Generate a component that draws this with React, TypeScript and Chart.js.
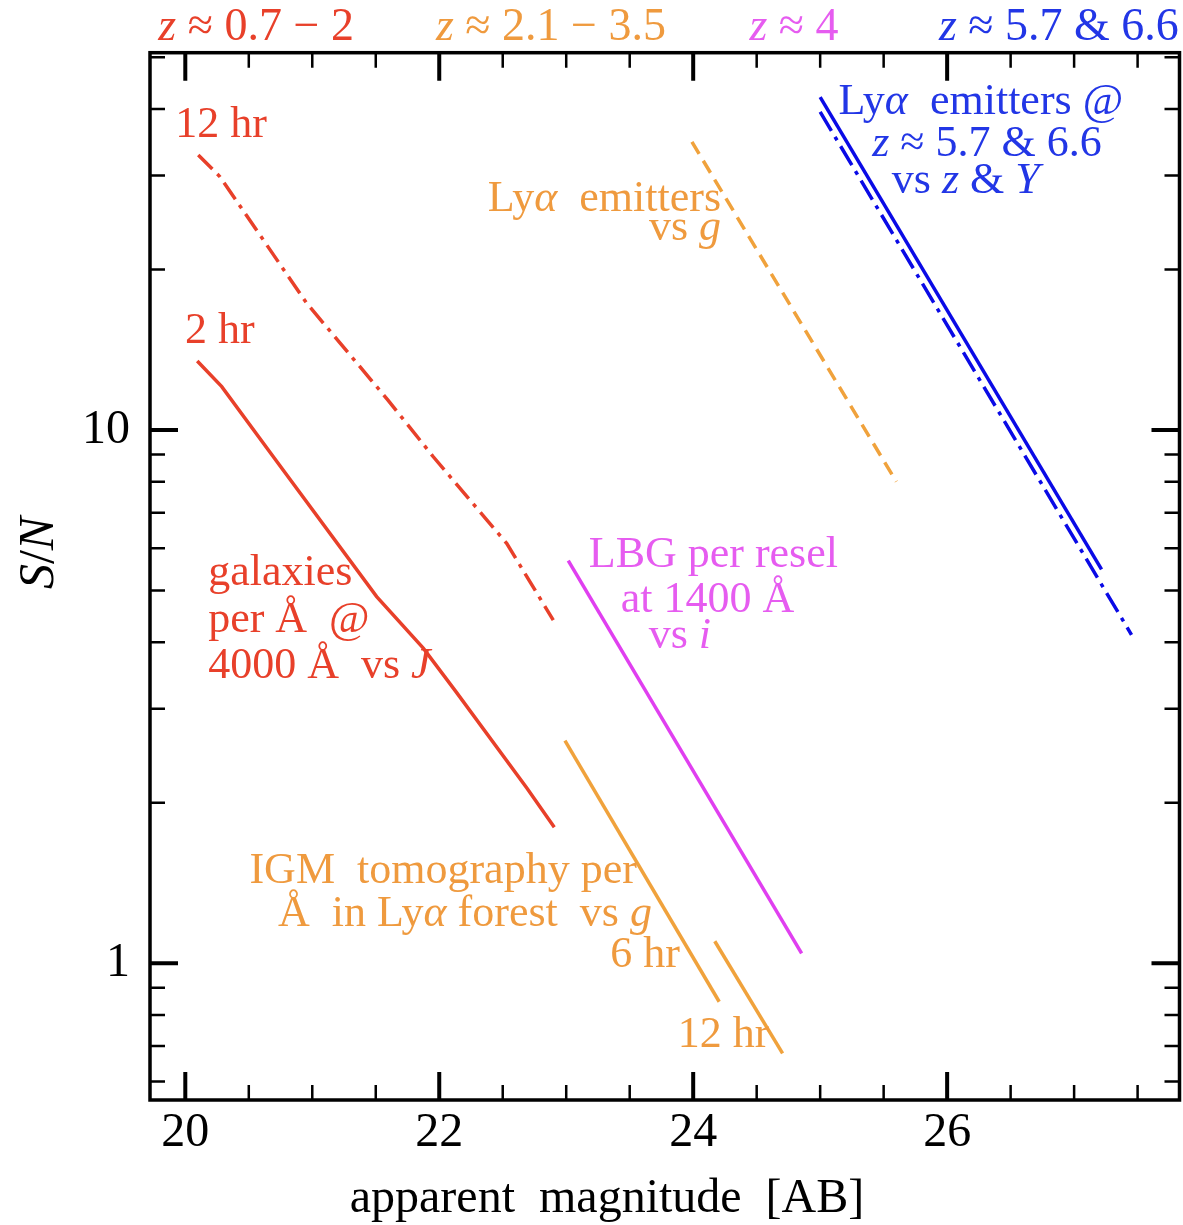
import React, { useEffect, useRef } from 'react';
import { Chart, registerables } from 'chart.js';

Chart.register(...registerables);

const FONT = "'Liberation Serif', 'Times New Roman', serif";

const RED = '#e8402a';
const ORANGE = '#f0a23c';
const ORANGE_TEXT = '#ef9a3e';
const MAGENTA = '#e03ff0';
const MAGENTA_TEXT = '#e65cf0';
const BLUE = '#0a0ae6';
const BLUE_TEXT = '#2236e6';

// galaxies per Å @ 4000 Å vs J (red)
const gal2hrMag = [20.094, 20.287, 20.683, 21.507, 21.874, 22.124, 22.691, 22.906];
const gal2hrSN = [13.47, 12.06, 8.98, 4.87, 3.9, 3.25, 2.13, 1.8];
const gal12hrMag = [20.102, 20.273, 20.956, 21.596, 21.953, 22.531, 22.898];
const gal12hrSN = [32.8, 29.85, 17.29, 11.38, 8.91, 6.13, 4.4];

// Lyα emitters vs g (orange dashed)
const laeGMag = [23.99, 25.6];
const laeGSN = [34.7, 8.0];

// IGM tomography (orange solid)
const igm6hrMag = [22.99, 24.205];
const igm6hrSN = [2.615, 0.847];
const igm12hrMag = [24.17, 24.704];
const igm12hrSN = [1.1, 0.678];

// LBG per resel (magenta)
const lbgMag = [23.016, 24.854];
const lbgSN = [5.69, 1.044];

// Lyα emitters z≈5.7 & 6.6 (blue)
const laeZMag = [25.0, 27.216];
const laeZSN = [42.1, 5.48];
const laeYMag = [25.0, 27.452];
const laeYSN = [39.5, 4.13];

// axes
const xMin = 19.722;
const xMax = 27.83;
const yMin = 0.5542;
const yMax = 51.0;
const xTickValues = [20, 20.5, 21, 21.5, 22, 22.5, 23, 23.5, 24, 24.5, 25, 25.5, 26, 26.5, 27, 27.5];
const xMajorTicks = [20, 22, 24, 26];
const yTickValues = [0.6, 0.7, 0.8, 0.9, 1, 2, 3, 4, 5, 6, 7, 8, 9, 10, 20, 30, 40, 50];
const yMajorTicks = [1, 10];

// annotation texts ('*' toggles italic)
type Note = { text: string; x: number; y: number; align: 'left' | 'right' | 'center'; color: string };
const notes: Note[] = [
  { text: '12 hr', x: 19.92, y: 35.4, align: 'left', color: RED },
  { text: '2 hr', x: 19.998, y: 14.56, align: 'left', color: RED },
  { text: 'galaxies', x: 20.18, y: 5.12, align: 'left', color: RED },
  { text: 'per Å  @', x: 20.18, y: 4.18, align: 'left', color: RED },
  { text: '4000 Å  vs *J*', x: 20.18, y: 3.43, align: 'left', color: RED },
  { text: 'Ly*α*  emitters', x: 24.219, y: 25.75, align: 'right', color: ORANGE_TEXT },
  { text: 'vs *g*', x: 24.219, y: 22.71, align: 'right', color: ORANGE_TEXT },
  { text: 'Ly*α*  emitters @', x: 26.265, y: 39.13, align: 'center', color: BLUE_TEXT },
  { text: '*z* ≈ 5.7 & 6.6', x: 26.313, y: 32.65, align: 'center', color: BLUE_TEXT },
  { text: 'vs *z* & *Y*', x: 26.147, y: 27.83, align: 'center', color: BLUE_TEXT },
  { text: 'LBG per resel', x: 24.159, y: 5.535, align: 'center', color: MAGENTA_TEXT },
  { text: 'at 1400 Å', x: 24.112, y: 4.557, align: 'center', color: MAGENTA_TEXT },
  { text: 'vs *i*', x: 23.895, y: 3.901, align: 'center', color: MAGENTA_TEXT },
  { text: 'IGM  tomography per', x: 23.556, y: 1.414, align: 'right', color: ORANGE_TEXT },
  { text: 'Å  in Ly*α* forest  vs *g*', x: 23.675, y: 1.175, align: 'right', color: ORANGE_TEXT },
  { text: '6 hr', x: 23.895, y: 0.984, align: 'right', color: ORANGE_TEXT },
  { text: '12 hr', x: 23.878, y: 0.697, align: 'left', color: ORANGE_TEXT },
];

const topLabels = ['*z* ≈ 0.7 − 2', '*z* ≈ 2.1 − 3.5', '*z* ≈ 4', '*z* ≈ 5.7 & 6.6'];
const topLabelX = [20.558, 22.88, 24.794, 26.88];
const topLabelColors = [RED, ORANGE_TEXT, MAGENTA_TEXT, BLUE_TEXT];

function drawRich(ctx: CanvasRenderingContext2D, text: string, x: number, y: number, align: string, size: number, color: string) {
  const parts = text.split('*');
  const fontFor = (it: boolean) => `${it ? 'italic ' : ''}${size}px ${FONT}`;
  const widths = parts.map((p, i) => {
    ctx.font = fontFor(i % 2 === 1);
    return ctx.measureText(p).width;
  });
  const total = widths.reduce((a, b) => a + b, 0);
  let sx = align === 'left' ? x : align === 'right' ? x - total : x - total / 2;
  ctx.textAlign = 'left';
  ctx.textBaseline = 'alphabetic';
  ctx.fillStyle = color;
  parts.forEach((p, i) => {
    ctx.font = fontFor(i % 2 === 1);
    ctx.fillText(p, sx, y);
    sx += widths[i];
  });
}

const toPoints = (xs: number[], ys: number[]) => xs.map((x, i) => ({ x, y: ys[i] }));

const framePlugin = {
  id: 'frame',
  afterDraw(chart: any) {
    const ctx: CanvasRenderingContext2D = chart.ctx;
    const { left, right, top, bottom } = chart.chartArea;
    const xs = chart.scales.x;
    const ys = chart.scales.y;
    ctx.save();
    ctx.strokeStyle = '#000';
    // ticks
    xTickValues.forEach((v) => {
      const px = xs.getPixelForValue(v);
      const major = xMajorTicks.includes(v);
      const len = major ? 28 : 15;
      ctx.lineWidth = major ? 4 : 2.5;
      ctx.beginPath();
      ctx.moveTo(px, bottom);
      ctx.lineTo(px, bottom - len);
      ctx.moveTo(px, top);
      ctx.lineTo(px, top + len);
      ctx.stroke();
    });
    yTickValues.forEach((v) => {
      const py = ys.getPixelForValue(v);
      const major = yMajorTicks.includes(v);
      const len = major ? 28 : 15;
      ctx.lineWidth = major ? 4 : 2.5;
      ctx.beginPath();
      ctx.moveTo(left, py);
      ctx.lineTo(left + len, py);
      ctx.moveTo(right, py);
      ctx.lineTo(right - len, py);
      ctx.stroke();
    });
    ctx.lineWidth = 3.5;
    ctx.strokeRect(left, top, right - left, bottom - top);

    // annotations
    notes.forEach((n) => {
      drawRich(ctx, n.text, xs.getPixelForValue(n.x), ys.getPixelForValue(n.y), n.align, 44, n.color);
    });
    topLabels.forEach((t, i) => {
      drawRich(ctx, t, xs.getPixelForValue(topLabelX[i]), top - 13, 'center', 46, topLabelColors[i]);
    });

    // axis titles
    drawRich(ctx, 'apparent  magnitude  [AB]', 607, 1212, 'center', 48, '#000');
    ctx.save();
    ctx.translate(53, 553);
    ctx.rotate(-Math.PI / 2);
    drawRich(ctx, '*S*/*N*', 0, 0, 'center', 50, '#000');
    ctx.restore();
    ctx.restore();
  },
};

const App = () => {
  const ref = useRef<HTMLCanvasElement>(null);
  useEffect(() => {
    document.body.style.margin = '0';
    const canvas = ref.current!;
    const line = (data: any, color: string, dash: number[] = []) => ({
      data,
      borderColor: color,
      borderWidth: 3.5,
      borderDash: dash,
      pointRadius: 0,
      fill: false,
      tension: 0,
    });
    const chart = new Chart(canvas, {
      type: 'line',
      data: {
        datasets: [
          line(toPoints(gal2hrMag, gal2hrSN), RED),
          line(toPoints(gal12hrMag, gal12hrSN), RED, [20, 7, 4, 7]),
          line(toPoints(laeGMag, laeGSN), ORANGE, [14, 8]),
          line(toPoints(igm6hrMag, igm6hrSN), ORANGE),
          line(toPoints(igm12hrMag, igm12hrSN), ORANGE),
          line(toPoints(lbgMag, lbgSN), MAGENTA),
          line(toPoints(laeZMag, laeZSN), BLUE),
          line(toPoints(laeYMag, laeYSN), BLUE, [22, 7, 4, 7]),
        ] as any,
      },
      options: {
        animation: false,
        responsive: false,
        devicePixelRatio: 1,
        layout: { padding: { left: 0, top: 52.7, right: 3.5, bottom: 0 } },
        plugins: { legend: { display: false }, tooltip: { enabled: false } },
        scales: {
          x: {
            type: 'linear',
            min: xMin,
            max: xMax,
            afterBuildTicks: (s: any) => {
              s.ticks = xTickValues.map((v) => ({ value: v }));
            },
            afterFit: (s: any) => {
              s.height = 125;
            },
            ticks: {
              autoSkip: false,
              maxRotation: 0,
              padding: 5,
              color: '#000',
              font: { family: FONT, size: 48 },
              callback: (v: any) => (xMajorTicks.includes(Number(v)) ? String(v) : ''),
            },
            grid: { display: false, drawTicks: false },
            border: { display: false },
          },
          y: {
            type: 'logarithmic',
            min: yMin,
            max: yMax,
            afterBuildTicks: (s: any) => {
              s.ticks = yTickValues.map((v) => ({ value: v }));
            },
            afterFit: (s: any) => {
              s.width = 150;
            },
            ticks: {
              autoSkip: false,
              padding: 20,
              color: '#000',
              font: { family: FONT, size: 48 },
              callback: (v: any) => (yMajorTicks.includes(Number(v)) ? String(v) : ''),
            },
            grid: { display: false, drawTicks: false },
            border: { display: false },
          },
        },
      } as any,
      plugins: [framePlugin],
    });
    return () => chart.destroy();
  }, []);
  return (
    <div style={{ width: 1183, height: 1225, background: '#fff' }}>
      <canvas ref={ref} width={1183} height={1225} style={{ display: 'block' }} />
    </div>
  );
};

export default App;
